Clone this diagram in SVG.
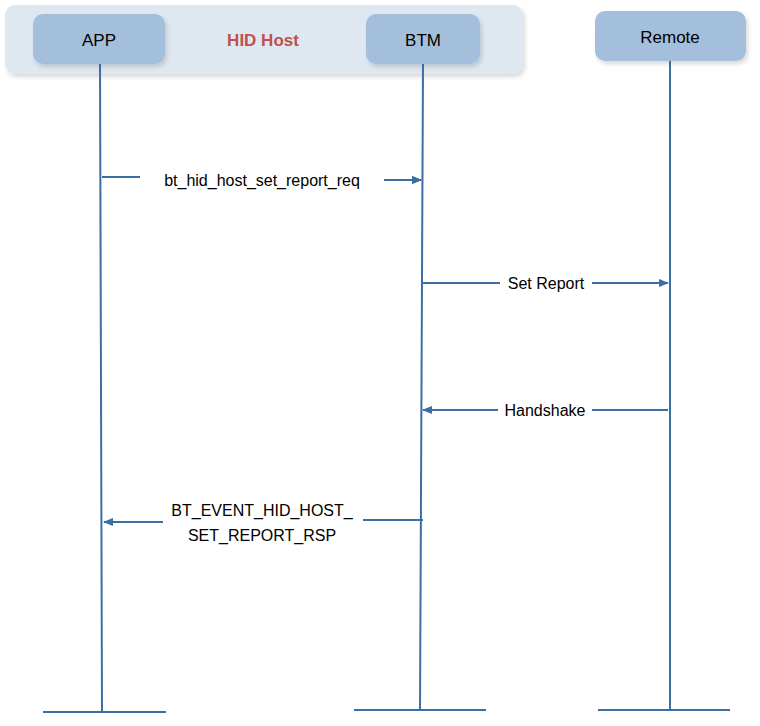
<svg xmlns="http://www.w3.org/2000/svg" width="760" height="726" viewBox="0 0 760 726">
<defs>
<marker id="ah" markerWidth="10" markerHeight="8" refX="9" refY="4" orient="auto" markerUnits="userSpaceOnUse"><path d="M0,0 L10,4 L0,8 Z" fill="#3a6ea5"/></marker>
<filter id="sh" x="-10%" y="-10%" width="130%" height="140%"><feDropShadow dx="2" dy="3" stdDeviation="2" flood-color="#000" flood-opacity="0.15"/></filter>
</defs>
<style>
.box{fill:#a3bfdb;filter:url(#sh)}
.t{font-family:"Liberation Sans",Arial,sans-serif;font-size:17px;fill:#000;text-anchor:middle}
.ln{stroke:#3a6ea5;stroke-width:2;fill:none}
.lab{font-family:"Liberation Sans",Arial,sans-serif;font-size:16px;fill:#000;text-anchor:middle}
</style>
<rect x="5" y="5" width="518" height="69" rx="10" fill="#dfe8f1" filter="url(#sh)"/>
<text x="263" y="46" class="t" style="fill:#c0504d;font-weight:bold">HID Host</text>
<g id="app"><rect class="box" x="33" y="14" width="132" height="50" rx="10"/><text x="99" y="46" class="t">APP</text></g>
<g id="btm"><rect class="box" x="366" y="14" width="114" height="50" rx="10"/><text x="423" y="46" class="t">BTM</text></g>
<g id="remote"><rect class="box" x="595" y="11" width="151" height="50" rx="10"/><text x="670" y="43" class="t">Remote</text></g>
<g id="connectors">
<path class="ln" d="M100,64 L102,712 M43,712 L166,712"/>
<path class="ln" d="M423,64 L420,710 M354,710 L486,710"/>
<path class="ln" d="M670,61 L670,710 M598,710 L730,710"/>
<path class="ln" d="M102,177 L140,177 M384,180 L421,180" marker-end="url(#ah)"/>
<path class="ln" d="M384,180 L421,180" marker-end="url(#ah)"/>
<text x="262" y="186" class="lab">bt_hid_host_set_report_req</text>
<path class="ln" d="M423,283 L500,283"/>
<path class="ln" d="M592,283 L668,283" marker-end="url(#ah)"/>
<text x="546" y="289" class="lab">Set Report</text>
<path class="ln" d="M668,410 L592,410"/>
<path class="ln" d="M498,410 L423,410" marker-end="url(#ah)"/>
<text x="545" y="416" class="lab">Handshake</text>
<path class="ln" d="M423,520 L363,520"/>
<path class="ln" d="M163,522 L104,522" marker-end="url(#ah)"/>
<text x="262" y="516" class="lab">BT_EVENT_HID_HOST_</text>
<text x="262" y="541" class="lab">SET_REPORT_RSP</text>
</g>
</svg>
